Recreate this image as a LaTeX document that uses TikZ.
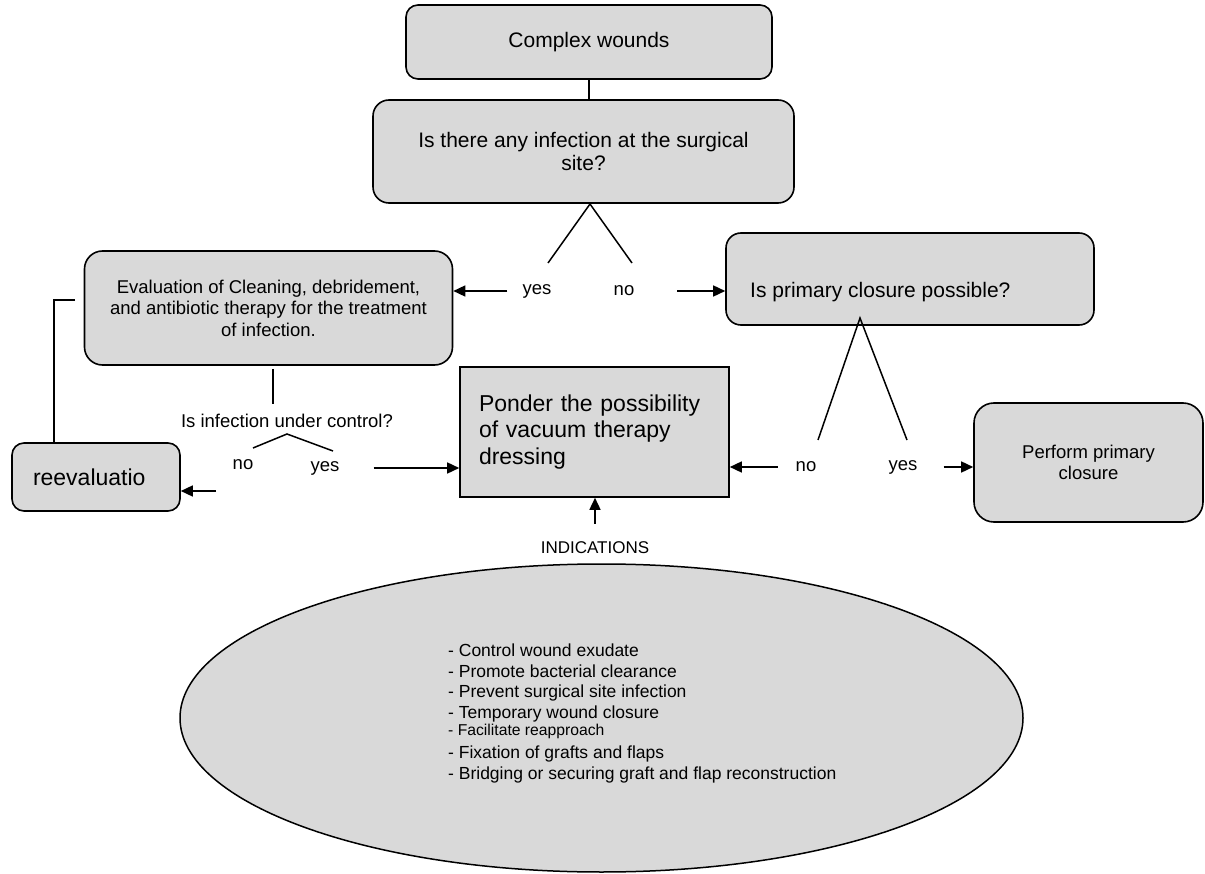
\documentclass[tikz,border=0pt]{standalone}
\usepackage{fontspec}
\setmainfont{Liberation Sans}
\usetikzlibrary{arrows.meta,shapes.geometric}
\definecolor{boxgray}{RGB}{217,217,217}
\tikzset{
  box/.style={draw, line width=1.6pt, fill=boxgray, rounded corners=#1, inner sep=0pt, align=center},
  conn/.style={line width=1.5pt},
  arr/.style={line width=1.5pt, -{Triangle[length=12pt,width=11pt]}},
  lbl/.style={inner sep=0pt, font=\fontsize{18.5}{22}\selectfont}
}
\begin{document}
\begin{tikzpicture}[x=1pt,y=-1pt]
\useasboundingbox (0,0) rectangle (1205,874);
% ellipse with indications
\node[draw, ellipse, line width=1.5pt, fill=boxgray, minimum width=843pt, minimum height=308pt, inner sep=0pt] (ell) at (601.5,718) {};
\node[anchor=north west, inner sep=0pt, align=left, font=\fontsize{17.5}{20.5}\selectfont] (list) at (448,644)
{- Control wound exudate\\
- Promote bacterial clearance\\
- Prevent surgical site infection\\
- Temporary wound closure\\[-3pt]
{\fontsize{15.7}{17}\selectfont - Facilitate reapproach}\\[2.5pt]
- Fixation of grafts and flaps\\
- Bridging or securing graft and flap reconstruction};

% boxes
\node[box=12pt, minimum width=366pt, minimum height=74pt, font=\fontsize{21}{25}\selectfont] (cw) at (589,42) {Complex wounds};
\node[box=16pt, minimum width=421pt, minimum height=103pt, font=\fontsize{21}{23}\selectfont] (inf) at (583.5,151.5) {Is there any infection at the surgical\\site?};
\node[box=18pt, minimum width=368pt, minimum height=114pt, font=\fontsize{18.5}{21.5}\selectfont] (eval) at (268.5,308) {Evaluation of Cleaning, debridement,\\and antibiotic therapy for the treatment\\of infection.};
\node[box=15pt, minimum width=368pt, minimum height=92pt] (prim) at (910,279) {};
\node[anchor=west, inner sep=0pt, font=\fontsize{21}{25}\selectfont] (primt) at (750,292) {Is primary closure possible?};
\node[draw, line width=1.6pt, fill=boxgray, minimum width=269pt, minimum height=130pt, text width=231pt, inner xsep=19pt, inner ysep=0pt, align=left, font=\fontsize{23}{26.5}\selectfont] (ponder) at (594.5,432) {Ponder the possibility\\of vacuum therapy\\dressing};
\node[box=20pt, minimum width=229pt, minimum height=119pt, font=\fontsize{18.5}{21.5}\selectfont] (perf) at (1088.5,462.5) {Perform primary\\closure};
\node[box=12pt, minimum width=168pt, minimum height=68pt, text width=126pt, inner xsep=21pt, align=left, font=\fontsize{23}{27}\selectfont] (reev) at (96,477) {reevaluatio};

% top connector
\draw[conn] (cw.south) -- (cw.south |- inf.north);

% first decision
\coordinate (ia) at (590,204);
\coordinate (il) at (548,263);
\coordinate (ir) at (632,263);
\draw[conn] (il) -- (ia) -- (ir);
\node[lbl] (yes1) at (537,291) {yes};
\node[lbl] (no1) at (624,291) {no};
\draw[arr] ([xshift=-15pt]yes1.west) -- (yes1.west -| eval.east);
\draw[arr] ([xshift=43pt]no1.east) -- (no1.east -| prim.west);

% infection control question
\draw[conn] ([xshift=4.5pt,yshift=-3pt]eval.south) -- ++(0,35);
\node[lbl] (ctrl) at (287,421) {Is infection under control?};
\coordinate (ca) at (287,434);
\coordinate (cl) at (253,448);
\coordinate (cr) at (333,451);
\draw[conn] (cl) -- (ca) -- (cr);
\node[lbl] (no2) at (243,465) {no};
\node[lbl] (yes2) at (325,468) {yes};
\draw[arr] ([xshift=34pt]yes2.east) -- (yes2.east -| ponder.west);
\coordinate (n2s) at (216,491);
\draw[arr] (n2s) -- (n2s -| reev.east);

% feedback line
\coordinate (fb1) at (75,300);
\coordinate (fb2) at (54,300);
\draw[conn] (fb1) -- (fb2) -- (fb2 |- reev.north);

% second decision
\coordinate (pa) at (860,318);
\coordinate (pl) at (818,440);
\coordinate (pr) at (907,440);
\draw[conn] (pl) -- (pa) -- (pr);
\node[lbl] (no3) at (806,467) {no};
\node[lbl] (yes3) at (903,467) {yes};
\draw[arr] ([xshift=-18pt]no3.west) -- (no3.west -| ponder.east);
\draw[arr] ([xshift=26pt]yes3.east) -- (yes3.east -| perf.west);

% indications
\node[inner sep=0pt, font=\fontsize{17}{20}\selectfont] (ind) at (595,548) {INDICATIONS};
\draw[arr] ([yshift=18pt]ind.north) -- (ind.north |- ponder.south);
\end{tikzpicture}
\end{document}
